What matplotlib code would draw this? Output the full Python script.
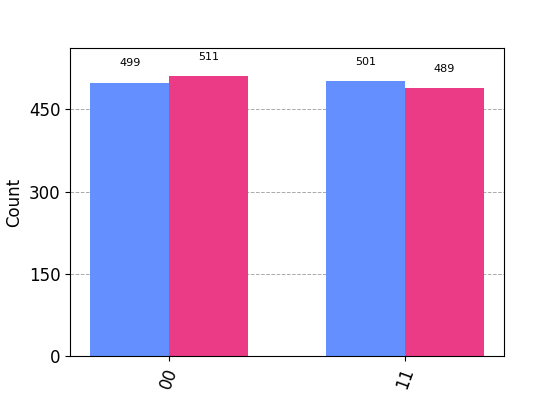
import matplotlib
matplotlib.use('Agg')
import matplotlib.pyplot as plt

# measurement outcomes and counts for the two runs
states = ["00", "11"]
counts_a = [499, 501]
counts_b = [511, 489]

BLUE = "#648fff"
PINK = "#ec3b86"
width = 1 / 3

fig, ax = plt.subplots(figsize=(5.6, 4), dpi=100)
xs = list(range(len(states)))
ax.bar([x for x in xs], counts_a, width, color=BLUE, zorder=2)
ax.bar([x + width for x in xs], counts_b, width, color=PINK, zorder=2)

for i, x in enumerate(xs):
    ax.text(x, counts_a[i] + 35, str(counts_a[i]), ha='center', va='center', fontsize=8)
    ax.text(x + width, counts_b[i] + 35, str(counts_b[i]), ha='center', va='center', fontsize=8)

ax.set_xticks([x + width / 2 for x in xs])
ax.set_xticklabels(states, rotation=70, fontsize=12)
ax.set_xlim(-0.253, 1.586)
ax.set_ylim(0, 562)
ax.set_yticks([0, 150, 300, 450])
ax.tick_params(axis='y', labelsize=12)
ax.set_ylabel("Count", fontsize=12)
ax.yaxis.grid(True, ls='--', color='#aaaaaa', lw=0.7, zorder=0)
ax.set_axisbelow(True)

fig.savefig("out.png", dpi=100)
